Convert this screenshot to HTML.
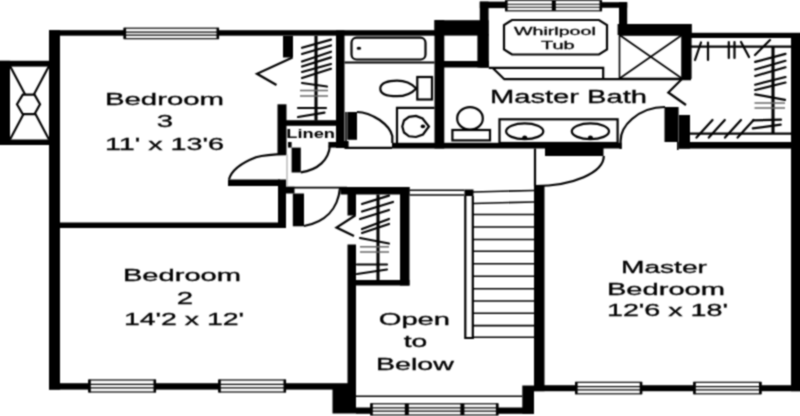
<!DOCTYPE html>
<html><head><meta charset="utf-8"><title>Second Floor Plan</title>
<style>
html,body{margin:0;padding:0;background:#fff;}
body{width:800px;height:416px;overflow:hidden;position:relative;}
svg{display:block;position:absolute;left:-10px;top:-10px;}
text{font-family:"Liberation Sans",sans-serif;fill:#000;stroke:#000;stroke-width:0.3px;}
.w{fill:#000;}
.l{stroke:#000;stroke-width:2.2;fill:none;}
.t{stroke:#000;stroke-width:1.6;fill:none;}
.r{stroke:#000;stroke-width:3.1;fill:none;}
.h{stroke:#000;stroke-width:2.2;fill:none;stroke-linecap:round;}
.g{stroke:#666;stroke-width:1.5;fill:none;}
.c{stroke-width:2.1;}
.wl{stroke:#000;stroke-width:1.15;fill:none;}
.g2{stroke:#999;stroke-width:1;fill:none;}
.f{stroke:#000;stroke-width:2.2;fill:#fff;}
</style></head><body>
<svg width="820" height="436" viewBox="-10 -10 820 436">
<defs><filter id="soft" x="0" y="0" width="100%" height="100%" filterUnits="objectBoundingBox" color-interpolation-filters="sRGB"><feConvolveMatrix order="3" kernelMatrix="1 2 1 2 6 2 1 2 1" divisor="18" edgeMode="duplicate" preserveAlpha="true"/></filter></defs>
<g filter="url(#soft)">
<rect x="-10" y="-10" width="820" height="436" fill="#fff"/>
<g id="walls">
<rect class="w" x="-8.00" y="60.80" width="18.00" height="84.20"/>
<rect class="w" x="-8.00" y="60.80" width="58.00" height="5.80"/>
<rect class="w" x="-8.00" y="139.50" width="58.00" height="5.50"/>
<rect class="w" x="49.00" y="30.20" width="11.00" height="359.40"/>
<rect class="w" x="49.00" y="30.20" width="386.00" height="5.50"/>
<rect class="w" x="283.00" y="36.00" width="10.00" height="21.50"/>
<rect class="w" x="336.00" y="30.30" width="8.50" height="117.70"/>
<rect class="w" x="434.50" y="20.00" width="9.80" height="128.50"/>
<rect class="w" x="434.50" y="20.20" width="54.10" height="15.40"/>
<rect class="w" x="479.80" y="1.60" width="8.80" height="65.90"/>
<rect class="w" x="477.40" y="34.00" width="11.20" height="33.50"/>
<rect class="w" x="444.00" y="61.00" width="44.80" height="6.50"/>
<rect class="w" x="479.80" y="1.60" width="26.20" height="6.50"/>
<rect class="w" x="600.00" y="2.20" width="27.20" height="5.60"/>
<rect class="w" x="619.00" y="2.20" width="8.20" height="32.80"/>
<rect class="w" x="617.60" y="24.00" width="74.00" height="11.00"/>
<rect class="w" x="682.00" y="24.00" width="9.60" height="54.80"/>
<rect class="w" x="690.00" y="32.80" width="118.00" height="5.20"/>
<rect class="w" x="791.00" y="33.30" width="17.00" height="357.90"/>
<rect class="w" x="664.50" y="107.00" width="12.50" height="35.00"/>
<rect class="w" x="679.00" y="115.00" width="11.00" height="33.60"/>
<rect class="w" x="678.40" y="142.00" width="112.60" height="6.60"/>
<rect class="w" x="392.00" y="142.80" width="229.50" height="5.70"/>
<rect class="w" x="545.00" y="148.00" width="58.50" height="8.00"/>
<rect class="w" x="277.50" y="104.30" width="9.00" height="50.50"/>
<rect class="w" x="286.00" y="120.20" width="52.00" height="5.60"/>
<rect class="w" x="288.00" y="142.00" width="3.60" height="5.60"/>
<rect class="w" x="328.40" y="142.00" width="8.10" height="5.60"/>
<rect class="w" x="291.60" y="147.60" width="9.20" height="24.90"/>
<rect class="w" x="347.30" y="112.00" width="9.70" height="27.80"/>
<rect class="w" x="344.00" y="141.00" width="4.60" height="7.50"/>
<rect class="w" x="228.00" y="179.50" width="52.00" height="6.50"/>
<rect class="w" x="278.00" y="179.50" width="8.00" height="48.50"/>
<rect class="w" x="60.00" y="222.50" width="226.00" height="5.50"/>
<rect class="w" x="292.80" y="193.50" width="11.20" height="32.80"/>
<rect class="w" x="286.00" y="186.80" width="8.50" height="6.70"/>
<rect class="w" x="340.50" y="187.00" width="69.00" height="7.50"/>
<rect class="w" x="347.50" y="194.00" width="8.50" height="21.50"/>
<rect class="w" x="347.50" y="244.50" width="8.50" height="163.00"/>
<rect class="w" x="400.00" y="187.00" width="9.50" height="98.50"/>
<rect class="w" x="356.00" y="280.00" width="53.50" height="5.50"/>
<rect class="w" x="464.50" y="189.50" width="9.00" height="6.50"/>
<rect class="w" x="534.00" y="186.00" width="10.50" height="205.20"/>
<rect class="w" x="49.00" y="383.20" width="299.00" height="6.40"/>
<rect class="w" x="332.50" y="384.00" width="23.50" height="29.50"/>
<rect class="w" x="356.00" y="407.50" width="16.00" height="6.30"/>
<rect class="w" x="497.00" y="407.50" width="37.00" height="6.30"/>
<rect class="w" x="522.30" y="385.50" width="11.70" height="28.30"/>
<rect class="w" x="534.00" y="385.20" width="274.00" height="6.00"/>
</g>
<g id="windows">
<rect x="124.30" y="28.20" width="94.00" height="10.50" fill="#fff" stroke="#000" stroke-width="1.2"/>
<line class="wl" x1="124.30" y1="32.09" x2="218.30" y2="32.09"/>
<line class="wl" x1="124.30" y1="35.13" x2="218.30" y2="35.13"/>
<rect class="w" x="123.50" y="27.90" width="2.60" height="11.10"/>
<rect class="w" x="216.50" y="27.90" width="2.60" height="11.10"/>
<rect x="505.80" y="0.40" width="95.50" height="10.40" fill="#fff" stroke="#000" stroke-width="1.2"/>
<line class="wl" x1="505.80" y1="4.25" x2="601.30" y2="4.25"/>
<line class="wl" x1="505.80" y1="7.26" x2="601.30" y2="7.26"/>
<rect class="w" x="505.00" y="0.10" width="2.60" height="11.00"/>
<rect class="w" x="599.50" y="0.10" width="2.60" height="11.00"/>
<rect class="w" x="551.80" y="0.40" width="4.00" height="10.40"/>
<rect x="89.00" y="380.00" width="66.30" height="12.00" fill="#fff" stroke="#000" stroke-width="1.2"/>
<line class="wl" x1="89.00" y1="384.44" x2="155.30" y2="384.44"/>
<line class="wl" x1="89.00" y1="387.92" x2="155.30" y2="387.92"/>
<rect class="w" x="88.20" y="379.70" width="2.60" height="12.60"/>
<rect class="w" x="153.50" y="379.70" width="2.60" height="12.60"/>
<rect x="219.00" y="380.00" width="66.30" height="12.00" fill="#fff" stroke="#000" stroke-width="1.2"/>
<line class="wl" x1="219.00" y1="384.44" x2="285.30" y2="384.44"/>
<line class="wl" x1="219.00" y1="387.92" x2="285.30" y2="387.92"/>
<rect class="w" x="218.20" y="379.70" width="2.60" height="12.60"/>
<rect class="w" x="283.50" y="379.70" width="2.60" height="12.60"/>
<rect x="575.80" y="382.30" width="65.70" height="11.50" fill="#fff" stroke="#000" stroke-width="1.2"/>
<line class="wl" x1="575.80" y1="386.56" x2="641.50" y2="386.56"/>
<line class="wl" x1="575.80" y1="389.89" x2="641.50" y2="389.89"/>
<rect class="w" x="575.00" y="382.00" width="2.60" height="12.10"/>
<rect class="w" x="639.70" y="382.00" width="2.60" height="12.10"/>
<rect x="694.00" y="382.30" width="66.80" height="11.50" fill="#fff" stroke="#000" stroke-width="1.2"/>
<line class="wl" x1="694.00" y1="386.56" x2="760.80" y2="386.56"/>
<line class="wl" x1="694.00" y1="389.89" x2="760.80" y2="389.89"/>
<rect class="w" x="693.20" y="382.00" width="2.60" height="12.10"/>
<rect class="w" x="759.00" y="382.00" width="2.60" height="12.10"/>
<rect x="371.00" y="403.80" width="126.70" height="11.20" fill="#fff" stroke="#000" stroke-width="1.2"/>
<line class="wl" x1="371.00" y1="407.94" x2="497.70" y2="407.94"/>
<line class="wl" x1="371.00" y1="411.19" x2="497.70" y2="411.19"/>
<rect class="w" x="370.20" y="403.50" width="2.60" height="11.80"/>
<rect class="w" x="495.90" y="403.50" width="2.60" height="11.80"/>
<rect class="w" x="404.80" y="403.80" width="4.00" height="11.20"/>
<rect class="w" x="460.40" y="403.80" width="4.00" height="11.20"/>
</g>
<g id="thin">
<line class="l c" x1="10.00" y1="66.00" x2="49.00" y2="139.50"/>
<line class="l c" x1="49.00" y1="66.00" x2="10.00" y2="139.50"/>
<polygon class="f c" points="17,104.3 22.8,94.6 34.5,94.6 40,104.3 34.5,114.2 22.8,114.2"/>
<path class="l" d="M292.5 57.5 L257 73.8 L276.5 85"/>
<line class="r" x1="316.00" y1="36.00" x2="316.00" y2="120.50"/>
<rect class="l" x="351.5" y="37.7" width="74" height="21.8" rx="5" ry="5"/>
<line class="l" x1="344.50" y1="62.50" x2="434.50" y2="62.50"/>
<ellipse cx="358.9" cy="48.2" rx="2.3" ry="1.5" fill="#000"/>
<path class="l" d="M380.3 88.4 C380.3 83 388 80.6 397 80.6 C405 80.6 411.5 83.5 416.3 88.4 C411.5 93.5 405 96.2 397 96.2 C388 96.2 380.3 94 380.3 88.4 Z"/>
<rect class="l" x="417.30" y="77.00" width="14.70" height="22.50"/>
<path class="l" d="M434.5 107.8 L397 107.8 L397 143"/>
<polygon class="l" points="402.3,126.5 404,120.5 409,116.8 416,115.9 422.5,118.5 428.9,126.5 423,134.5 416,137 409,136.3 404,132.5"/>
<ellipse cx="422.9" cy="126.4" rx="2.3" ry="1.8" fill="#000"/>
<path class="l" d="M357 112 C364 112 372 115 379.7 120 C386 124.5 391 130 392.3 136 L392.3 143"/>
<line class="t" x1="346.00" y1="112.00" x2="346.00" y2="142.00"/>
<line class="l" x1="345.00" y1="147.80" x2="392.00" y2="147.80"/>
<polygon class="l" points="512,20 599,20 607,25 607,49.5 599,54.5 512,54.5 504,49.5 504,25"/>
<path class="l" d="M488.8 67.8 L603.2 67.8 L603.2 79"/>
<path class="l" d="M492.5 67.8 L504.3 79.2 L691 79.2"/>
<rect class="t" x="619.50" y="35.00" width="62.50" height="43.50"/>
<line class="t" x1="619.50" y1="35.00" x2="682.00" y2="78.50"/>
<line class="t" x1="682.00" y1="35.00" x2="619.50" y2="78.50"/>
<path class="l" d="M682.5 78.5 L668.3 92.5 L686 105"/>
<ellipse class="l" cx="470" cy="118.4" rx="12.8" ry="11.3"/>
<rect class="f" x="452.40" y="130.00" width="37.60" height="10.40"/>
<rect class="l" x="499.50" y="119.30" width="118.10" height="23.70"/>
<ellipse class="l" cx="524.7" cy="131.3" rx="18.6" ry="7.9"/>
<ellipse cx="524.7" cy="137.2" rx="2.4" ry="1.6" fill="#000"/>
<ellipse class="l" cx="590.4" cy="131.3" rx="18.6" ry="7.9"/>
<ellipse cx="590.4" cy="137.2" rx="2.4" ry="1.6" fill="#000"/>
<path class="l" d="M665 107 C652 107 640 112 632 119 C625 125 620.6 132 620.6 141 L620.6 149"/>
<path class="l" d="M603.8 156 A69 30 0 0 1 535 186"/>
<line class="l" x1="535.00" y1="148.50" x2="535.00" y2="186.00"/>
<line class="t" x1="677.80" y1="107.00" x2="677.80" y2="150.00"/>
<line class="l" x1="691.00" y1="46.70" x2="791.00" y2="46.70"/>
<line class="r" x1="773.00" y1="46.70" x2="773.00" y2="133.60"/>
<line class="l" x1="690.00" y1="133.60" x2="791.00" y2="133.60"/>
<path class="l" d="M300.8 172.3 C318 170 329 160 330 145"/>
<path class="l" d="M229 179.5 C231 172 240 163.5 256 157.3 C264 155 272 154.4 286 154.2"/>
<line class="g2" x1="287.00" y1="154.50" x2="287.00" y2="186.00"/>
<line class="t" x1="286.00" y1="187.60" x2="347.00" y2="187.60"/>
<path class="l" d="M304 226 C325 222 338 209 340 188"/>
<path class="l" d="M355.5 215.3 L336.5 227.5 L354 236"/>
<line class="r" x1="378.00" y1="194.50" x2="378.00" y2="280.00"/>
<line class="t" x1="409.50" y1="190.30" x2="464.50" y2="190.30"/>
<line class="t" x1="409.50" y1="195.00" x2="464.50" y2="195.00"/>
<path class="l" d="M465.3 196 L465.3 338 L472.8 338 L472.8 196"/>
<line class="t" x1="473.00" y1="214.50" x2="534.00" y2="214.50"/>
<line class="t" x1="473.00" y1="227.00" x2="534.00" y2="227.00"/>
<line class="t" x1="473.00" y1="239.50" x2="534.00" y2="239.50"/>
<line class="t" x1="473.00" y1="251.30" x2="534.00" y2="251.30"/>
<line class="t" x1="473.00" y1="263.80" x2="534.00" y2="263.80"/>
<line class="t" x1="473.00" y1="276.20" x2="534.00" y2="276.20"/>
<line class="t" x1="473.00" y1="288.80" x2="534.00" y2="288.80"/>
<line class="t" x1="473.00" y1="301.00" x2="534.00" y2="301.00"/>
<line class="t" x1="473.00" y1="313.30" x2="534.00" y2="313.30"/>
<line class="t" x1="473.00" y1="325.60" x2="534.00" y2="325.60"/>
<line class="t" x1="473.00" y1="337.30" x2="534.00" y2="337.30"/>
<path class="t" d="M473 192 L534 190.5"/>
<path class="t" d="M473 203.5 L534 202"/>
<line class="t" x1="356.00" y1="396.30" x2="522.30" y2="396.30"/>
</g>
<g id="hangers">
<line class="h" x1="302.00" y1="47.80" x2="331.00" y2="39.60"/>
<line class="h" x1="302.00" y1="54.00" x2="331.00" y2="45.50"/>
<line class="h" x1="302.00" y1="61.50" x2="331.00" y2="51.70"/>
<line class="h" x1="302.00" y1="66.50" x2="331.00" y2="57.40"/>
<line class="h" x1="302.00" y1="72.00" x2="331.00" y2="64.00"/>
<line class="h" x1="302.00" y1="78.00" x2="331.00" y2="68.80"/>
<line class="h" x1="302.00" y1="83.00" x2="327.00" y2="86.50"/>
<line class="g" x1="300.00" y1="90.50" x2="328.00" y2="90.50"/>
<line class="g" x1="300.00" y1="96.00" x2="328.00" y2="96.00"/>
<line class="h" x1="298.00" y1="108.00" x2="326.00" y2="108.00"/>
<line class="h" x1="298.00" y1="117.00" x2="324.50" y2="112.70"/>
<line class="h" x1="362.00" y1="204.00" x2="389.00" y2="195.60"/>
<line class="h" x1="362.00" y1="211.50" x2="393.00" y2="202.00"/>
<line class="h" x1="360.00" y1="219.00" x2="389.00" y2="210.00"/>
<line class="h" x1="362.00" y1="229.00" x2="389.00" y2="219.00"/>
<line class="h" x1="362.00" y1="233.00" x2="389.00" y2="224.00"/>
<line class="h" x1="360.00" y1="238.00" x2="389.00" y2="243.50"/>
<line class="g" x1="360.00" y1="246.80" x2="389.00" y2="246.80"/>
<line class="g" x1="360.00" y1="252.00" x2="389.00" y2="252.00"/>
<line class="h" x1="357.00" y1="264.50" x2="387.00" y2="264.50"/>
<line class="h" x1="357.00" y1="274.00" x2="387.00" y2="269.50"/>
<line class="h" x1="701.00" y1="42.50" x2="695.00" y2="60.00"/>
<line class="h" x1="708.00" y1="42.50" x2="708.00" y2="60.00"/>
<line class="h" x1="728.80" y1="42.00" x2="728.80" y2="58.00"/>
<line class="h" x1="734.50" y1="42.00" x2="734.50" y2="58.00"/>
<line class="h" x1="741.00" y1="42.00" x2="749.00" y2="57.00"/>
<line class="h" x1="770.00" y1="40.00" x2="755.00" y2="55.00"/>
<line class="h" x1="755.20" y1="61.90" x2="785.50" y2="53.90"/>
<line class="h" x1="755.20" y1="69.50" x2="785.50" y2="60.80"/>
<line class="h" x1="755.20" y1="76.00" x2="785.50" y2="67.30"/>
<line class="h" x1="755.20" y1="84.70" x2="785.50" y2="77.00"/>
<line class="h" x1="755.20" y1="90.00" x2="785.50" y2="82.50"/>
<line class="h" x1="755.20" y1="94.40" x2="785.00" y2="99.80"/>
<line class="g" x1="754.50" y1="103.00" x2="785.00" y2="103.00"/>
<line class="g" x1="754.50" y1="108.00" x2="785.00" y2="108.00"/>
<line class="h" x1="753.00" y1="120.30" x2="781.00" y2="119.70"/>
<line class="h" x1="752.80" y1="128.40" x2="780.70" y2="124.70"/>
<line class="h" x1="712.50" y1="120.00" x2="696.50" y2="137.60"/>
<line class="h" x1="724.80" y1="120.00" x2="708.80" y2="137.60"/>
<line class="h" x1="741.00" y1="120.00" x2="725.00" y2="137.60"/>
<line class="h" x1="753.60" y1="120.00" x2="737.60" y2="137.60"/>
</g>
<g id="labels">
<text x="104.93" y="105.00" font-size="16.8" font-weight="normal" textLength="119.14" lengthAdjust="spacingAndGlyphs">Bedroom</text>
<text x="156.83" y="127.40" font-size="16.8" font-weight="normal" textLength="16.34" lengthAdjust="spacingAndGlyphs">3</text>
<text x="104.95" y="149.60" font-size="16.8" font-weight="normal" textLength="119.08" lengthAdjust="spacingAndGlyphs">11' x 13'6</text>
<text x="122.93" y="281.00" font-size="16.8" font-weight="normal" textLength="118.14" lengthAdjust="spacingAndGlyphs">Bedroom</text>
<text x="176.83" y="303.60" font-size="16.8" font-weight="normal" textLength="16.34" lengthAdjust="spacingAndGlyphs">2</text>
<text x="123.95" y="325.40" font-size="16.8" font-weight="normal" textLength="120.08" lengthAdjust="spacingAndGlyphs">14'2 x 12'</text>
<text x="620.95" y="273.00" font-size="16.8" font-weight="normal" textLength="86.05" lengthAdjust="spacingAndGlyphs">Master</text>
<text x="606.93" y="294.60" font-size="16.8" font-weight="normal" textLength="118.14" lengthAdjust="spacingAndGlyphs">Bedroom</text>
<text x="606.95" y="316.00" font-size="16.8" font-weight="normal" textLength="121.08" lengthAdjust="spacingAndGlyphs">12'6 x 18'</text>
<text x="489.93" y="102.50" font-size="18" font-weight="normal" textLength="157.11" lengthAdjust="spacingAndGlyphs">Master Bath</text>
<text x="514.00" y="34.50" font-size="11.5" font-weight="normal" textLength="81.82" lengthAdjust="spacingAndGlyphs">Whirlpool</text>
<text x="540.96" y="49.00" font-size="11.5" font-weight="normal" textLength="33.67" lengthAdjust="spacingAndGlyphs">Tub</text>
<text style="stroke:none" x="286.32" y="138.20" font-size="12.8" font-weight="bold" textLength="48.73" lengthAdjust="spacingAndGlyphs">Linen</text>
<text x="378.72" y="325.00" font-size="16.8" font-weight="normal" textLength="71.35" lengthAdjust="spacingAndGlyphs">Open</text>
<text x="403.75" y="347.00" font-size="16.8" font-weight="normal" textLength="23.56" lengthAdjust="spacingAndGlyphs">to</text>
<text x="376.12" y="370.20" font-size="16.8" font-weight="normal" textLength="77.70" lengthAdjust="spacingAndGlyphs">Below</text>
</g>
</g>
</svg>
</body></html>
